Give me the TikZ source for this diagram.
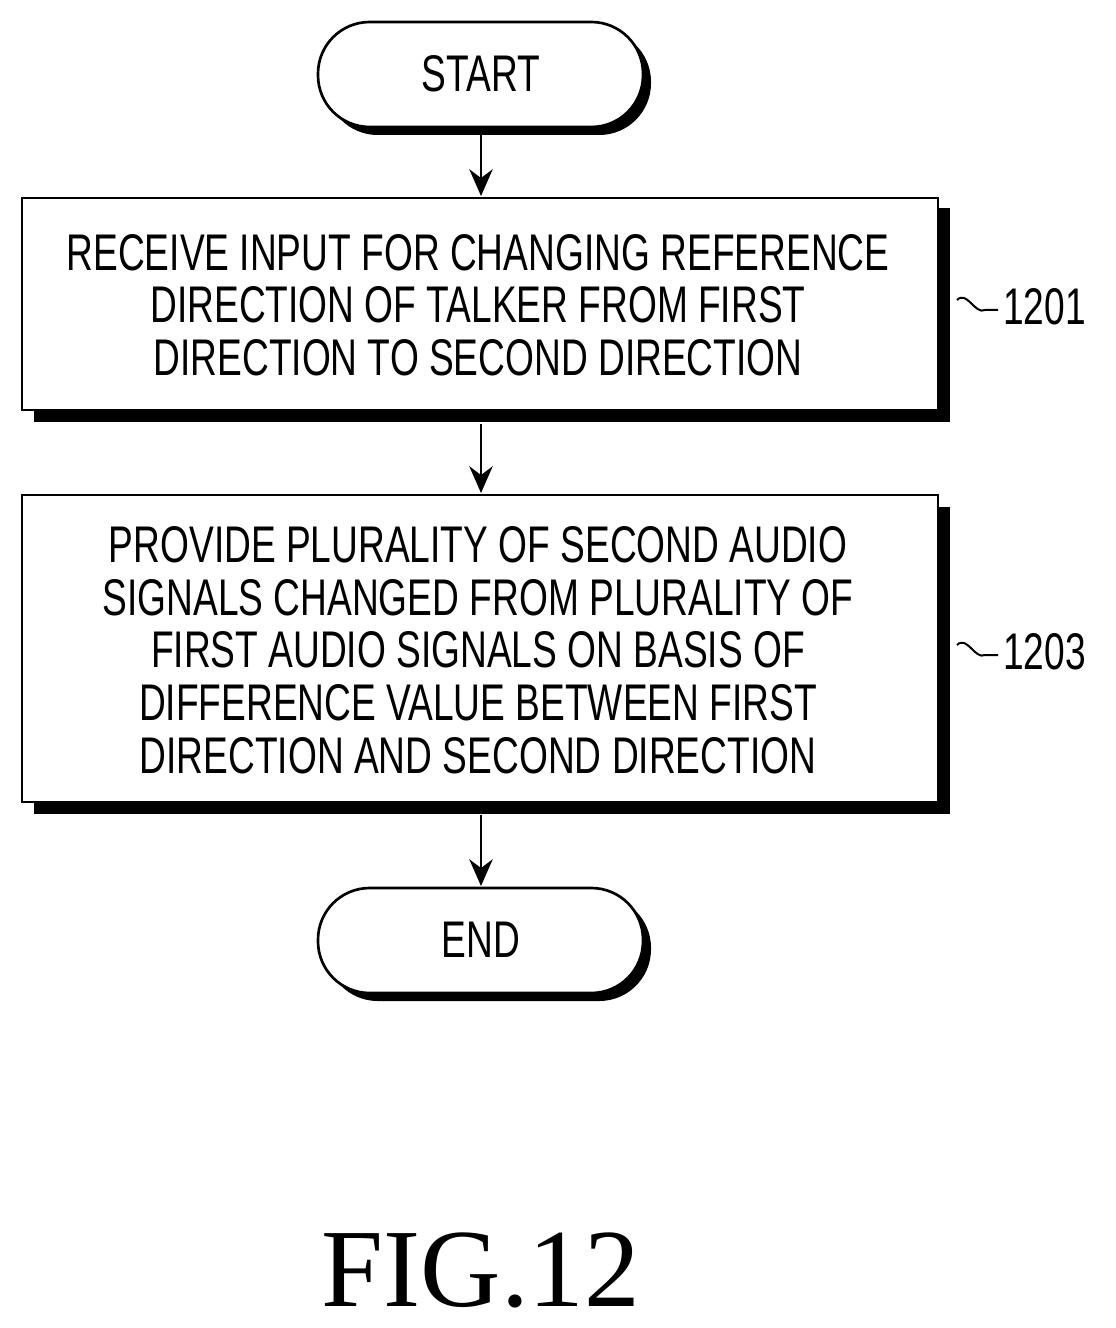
\documentclass[tikz,border=0pt]{standalone}
\usepackage{fontspec}
\setmainfont{Liberation Serif}
\newfontfamily\cond[FakeStretch=0.72]{Liberation Sans}
\usetikzlibrary{arrows.meta,shapes.misc}
\begin{document}
\begin{tikzpicture}[x=0.03cm,y=-0.03cm,line width=0.08cm,
  txt/.style={font=\cond\fontsize{44}{45}\selectfont,align=center},
  arr/.style={-{Stealth[length=0.8cm,width=0.7cm]}},
  sh/.style={fill=black,draw=black}]
\useasboundingbox (0,0) rectangle (1115,1328);
% START
\fill[rounded corners=1.55cm] (326,30) rectangle (651,135);
\draw[fill=white,rounded corners=1.55cm] (318,22) rectangle (643,127);
\node[txt] (s) at (481,74) {START};
\coordinate (sb) at (481,128);
% box1
\fill (34,208) rectangle (950,422);
\draw[fill=white] (22,198) rectangle (938,410);
\node[txt] (b1) at (478,305) {RECEIVE INPUT FOR CHANGING REFERENCE\\DIRECTION OF TALKER FROM FIRST\\DIRECTION TO SECOND DIRECTION};
% box2
\fill (34,507) rectangle (950,814);
\draw[fill=white] (22,495) rectangle (938,802);
\node[txt] (b2) at (478,650) {PROVIDE PLURALITY OF SECOND AUDIO\\SIGNALS CHANGED FROM PLURALITY OF\\FIRST AUDIO SIGNALS ON BASIS OF\\DIFFERENCE VALUE BETWEEN FIRST\\DIRECTION AND SECOND DIRECTION};
% END
\fill[rounded corners=1.55cm] (326,896) rectangle (651,1001);
\draw[fill=white,rounded corners=1.55cm] (318,888) rectangle (643,993);
\node[txt] (e) at (481,940) {END};
% arrows
\coordinate (a1) at (481,196); \coordinate (a1s) at (481,130);
\draw[arr] (a1s) -- (a1);
\coordinate (a2s) at (481,424); \coordinate (a2) at (481,493);
\draw[arr] (a2s) -- (a2);
\coordinate (a3s) at (481,815); \coordinate (a3) at (481,886);
\draw[arr] (a3s) -- (a3);
% labels
\node[txt,anchor=west] (l1) at (998,307) {1201};
\draw[line width=0.06cm] (957,300) .. controls (967,290) and (975,315) .. (985,310) -- (998,310);
\node[txt,anchor=west] (l2) at (998,652) {1203};
\draw[line width=0.06cm] (957,645) .. controls (967,635) and (975,660) .. (985,655) -- (998,655);
\node[font=\fontsize{95}{95}\selectfont] (fig) at (481,1270) {FIG.12};
\end{tikzpicture}
\end{document}
